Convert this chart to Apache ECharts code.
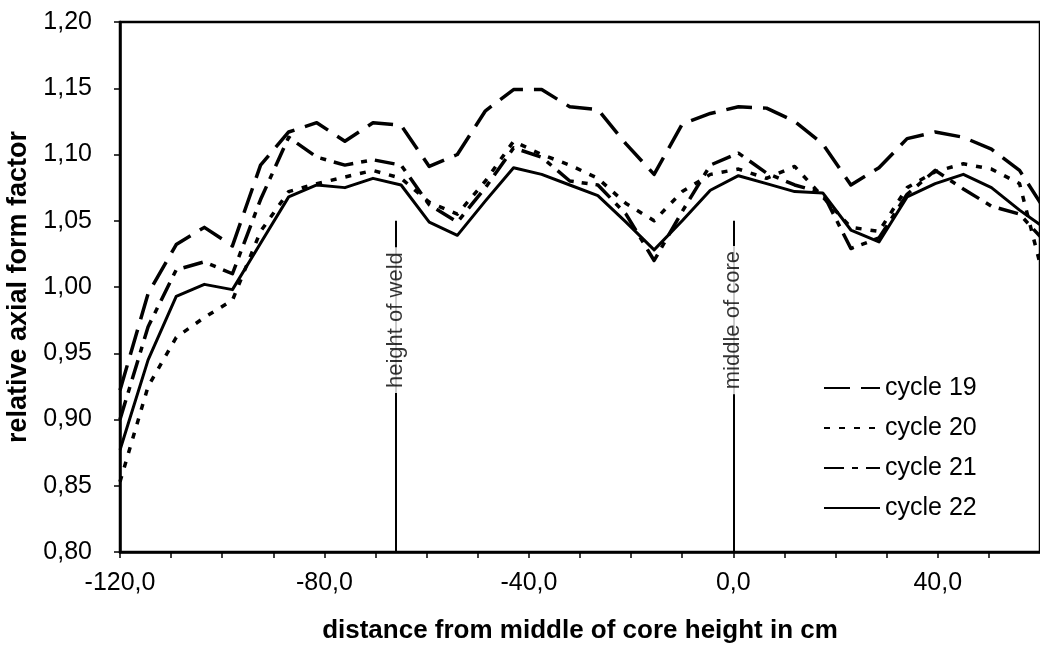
<!DOCTYPE html>
<html>
<head>
<meta charset="utf-8">
<script src="https://cdn.jsdelivr.net/npm/echarts@6/dist/echarts.min.js"></script>
<style>
  html, body { margin: 0; padding: 0; background: #fff; }
  #chart { width: 1040px; height: 652px; }
</style>
</head>
<body>
<div id="chart"></div>
<script>
// Measurement positions along the core (cm from core mid-height)
const positions = [-120, -114.5, -109, -103.5, -98, -92.5, -87, -81.5, -76, -70.5, -65, -59.5,
  -54, -48.5, -43, -37.5, -32, -26.5, -21, -15.5, -10, -4.5, 1, 6.5, 12, 17.5, 23, 28.5,
  34, 39.5, 45, 50.5, 56, 61.5];

// Relative axial form factor per cycle
const cycle19 = [0.922, 0.995, 1.032, 1.045, 1.031, 1.092, 1.117, 1.124, 1.110, 1.124, 1.122, 1.091,
  1.100, 1.133, 1.149, 1.149, 1.136, 1.134, 1.108, 1.085, 1.123, 1.131, 1.136, 1.135, 1.125, 1.108,
  1.077, 1.090, 1.112, 1.117, 1.113, 1.104, 1.088, 1.055];
const cycle20 = [0.853, 0.925, 0.962, 0.977, 0.990, 1.042, 1.072, 1.078, 1.083, 1.088, 1.082, 1.064,
  1.055, 1.080, 1.110, 1.100, 1.092, 1.082, 1.063, 1.050, 1.072, 1.085, 1.089, 1.082, 1.091, 1.068,
  1.045, 1.042, 1.075, 1.087, 1.093, 1.089, 1.078, 0.995];
const cycle21 = [0.900, 0.970, 1.013, 1.019, 1.010, 1.066, 1.113, 1.098, 1.092, 1.096, 1.092, 1.062,
  1.049, 1.075, 1.105, 1.098, 1.080, 1.077, 1.055, 1.020, 1.057, 1.092, 1.101, 1.086, 1.077, 1.071,
  1.029, 1.037, 1.070, 1.088, 1.074, 1.061, 1.055, 1.032];
const cycle22 = [0.877, 0.945, 0.993, 1.002, 0.998, 1.033, 1.068, 1.077, 1.075, 1.082, 1.077, 1.049,
  1.039, 1.065, 1.090, 1.085, 1.077, 1.069, 1.049, 1.028, 1.050, 1.073, 1.084, 1.078, 1.072, 1.071,
  1.043, 1.034, 1.068, 1.078, 1.085, 1.075, 1.058, 1.043];

const seriesNames = ['cycle 19', 'cycle 20', 'cycle 21', 'cycle 22'];

// Vertical reference markers: position, top of the marker line, label height
const markerNames = ['height of weld', 'middle of core'];
const markerX = [-66, 0];
const markerTop = 1.05;
const markerLabelY = 0.975;

const FONT = '"Liberation Sans", Arial, Helvetica, sans-serif';

const pairs = arr => positions.map((x, i) => [x, arr[i]]);
const comma = (v, d) => v.toFixed(d).replace('.', ',');

const lineSeries = (name, data, type, width) => ({
  name: name,
  type: 'line',
  data: pairs(data),
  showSymbol: false,
  symbol: 'none',
  smooth: false,
  clip: true,
  lineStyle: { color: '#000', width: width, type: type, cap: 'butt', join: 'round' },
  itemStyle: { color: '#000' },
  z: 3
});

const chart = echarts.init(document.getElementById('chart'), null, { renderer: 'canvas' });

chart.setOption({
  animation: false,
  backgroundColor: '#fff',
  textStyle: { fontFamily: FONT, color: '#000' },
  grid: {
    left: 120, right: 0, top: 22, bottom: 100,
    containLabel: false,
    outerBoundsMode: 'none',
    show: true, borderColor: '#000', borderWidth: 2.5, backgroundColor: 'transparent'
  },
  legend: {
    data: seriesNames,
    orient: 'vertical',
    left: 818,
    top: 370,
    itemWidth: 56,
    itemHeight: 20,
    itemGap: 14,
    itemStyle: { opacity: 0 },
    textStyle: { fontFamily: FONT, fontSize: 25, color: '#000', lineHeight: 26 },
    selectedMode: false
  },
  xAxis: {
    type: 'value',
    min: -120,
    max: 60,
    interval: 10,
    name: 'distance from middle of core height in cm',
    nameLocation: 'middle',
    nameGap: 66,
    nameTextStyle: { fontFamily: FONT, fontSize: 26, fontWeight: 'bold', color: '#000' },
    axisLine: { onZero: false, lineStyle: { color: '#000', width: 2.5 } },
    axisTick: { show: true, length: 6, lineStyle: { color: '#000', width: 1.5 } },
    axisLabel: {
      margin: 19,
      fontSize: 25,
      color: '#000',
      fontFamily: FONT,
      interval: 0,
      showMaxLabel: false,
      formatter: v => (Math.round(v) % 40 === 0 && v < 60) ? comma(v, 1) : ''
    },
    splitLine: { show: false }
  },
  yAxis: {
    type: 'value',
    min: 0.8,
    max: 1.2,
    interval: 0.05,
    name: 'relative axial form factor',
    nameLocation: 'middle',
    nameGap: 82,
    nameRotate: 90,
    nameTextStyle: { fontFamily: FONT, fontSize: 27, fontWeight: 'bold', color: '#000' },
    axisLine: { show: true, onZero: false, lineStyle: { color: '#000', width: 2.5 } },
    axisTick: { show: true, length: 6, lineStyle: { color: '#000', width: 1.5 } },
    axisLabel: {
      margin: 28,
      fontSize: 25,
      color: '#000',
      fontFamily: FONT,
      formatter: v => comma(v, 2)
    },
    splitLine: { show: false }
  },
  series: [
    lineSeries('cycle 19', cycle19, [26, 11], 3.5),
    lineSeries('cycle 20', cycle20, [6, 9], 3.5),
    lineSeries('cycle 21', cycle21, [20, 8, 6, 8], 3.5),
    lineSeries('cycle 22', cycle22, 'solid', 3),
    {
      name: 'marker lines',
      type: 'scatter',
      data: [],
      z: 2,
      markLine: {
        silent: true,
        symbol: 'none',
        label: { show: false },
        lineStyle: { color: '#000', width: 2, type: 'solid' },
        data: markerX.map(x => [{ coord: [x, 0.8] }, { coord: [x, markerTop] }])
      }
    },
    {
      name: 'marker labels',
      type: 'scatter',
      symbolSize: 0,
      z: 10,
      zlevel: 1,
      data: markerNames.map((n, i) => ({ name: n, value: [markerX[i], markerLabelY] })),
      label: {
        show: true,
        position: 'inside',
        rotate: 90,
        formatter: p => p.name,
        fontFamily: FONT,
        fontSize: 22,
        color: '#000',
        backgroundColor: '#fff',
        padding: [0, 5]
      }
    }
  ]
});
</script>
</body>
</html>
